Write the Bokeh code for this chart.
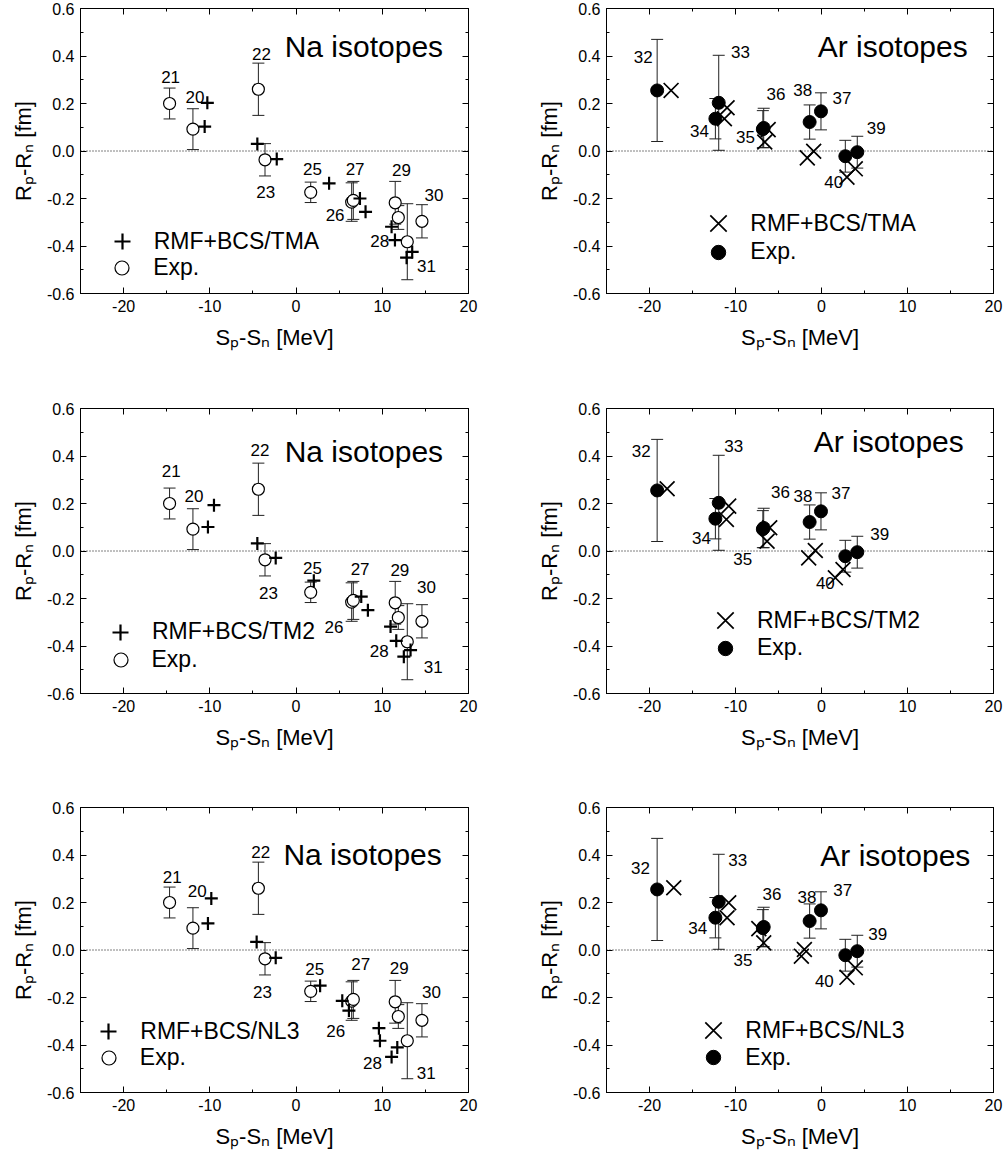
from bokeh.plotting import figure
from bokeh.models import (Range1d, FixedTicker, NumeralTickFormatter, LinearAxis,
                          Span, Whisker, TeeHead, ColumnDataSource, Label, Legend, LegendItem)
from bokeh.layouts import column, row
from bokeh.embed import file_html
from bokeh.resources import INLINE
from bokeh.core.properties import value

FONT = "Liberation Sans"

# ---------------- axis ticks ----------------
x_major_ticks = [-20, -10, 0, 10, 20]
x_minor_ticks = [-25, -15, -5, 5, 15]
y_major_ticks = [-0.6, -0.4, -0.2, 0.0, 0.2, 0.4, 0.6]
y_minor_ticks = [-0.5, -0.3, -0.1, 0.1, 0.3, 0.5]

# ---------------- Na isotopes ----------------
na_mass = ["20", "21", "22", "23", "25", "26", "27", "28", "29", "30", "31"]
na_exp_x = [-11.96, -14.67, -4.37, -3.60, 1.70, 6.45, 6.64, 11.86, 11.50, 14.60, 12.90]
na_exp_y = [0.092, 0.200, 0.260, -0.037, -0.174, -0.215, -0.208, -0.280, -0.218, -0.296, -0.382]
na_exp_err = [0.086, 0.065, 0.110, 0.068, 0.043, 0.081, 0.080, 0.050, 0.090, 0.070, 0.160]

na_tma_x = [-10.29, -10.60, -4.49, -2.24, 3.83, 8.06, 7.41, 11.47, 11.08, 12.82, 13.47]
na_tma_y = [0.203, 0.103, 0.030, -0.034, -0.136, -0.256, -0.200, -0.375, -0.319, -0.449, -0.425]
na_tm2_x = [-9.52, -10.22, -4.49, -2.36, 2.06, 8.33, 7.56, 11.62, 10.96, 12.50, 13.28]
na_tm2_y = [0.193, 0.101, 0.032, -0.029, -0.125, -0.249, -0.192, -0.378, -0.318, -0.445, -0.417]
na_nl3_x = [-9.83, -10.22, -4.57, -2.36, 2.79, 6.13, 5.36, 9.73, 9.61, 11.08, 11.74]
na_nl3_y = [0.217, 0.112, 0.034, -0.033, -0.150, -0.255, -0.214, -0.382, -0.329, -0.450, -0.410]

# isotope-number label anchors (one set per panel)
na_tma_lx = [-11.73, -14.55, -4.02, -3.52, 1.90, 4.53, 6.85, 9.71, 12.23, 16.00, 15.13]
na_tma_ly = [0.227, 0.312, 0.407, -0.174, -0.075, -0.268, -0.075, -0.381, -0.082, -0.185, -0.483]
na_tm2_lx = [-11.84, -14.47, -4.18, -3.21, 1.90, 4.41, 7.43, 9.64, 12.04, 15.13, 15.90]
na_tm2_ly = [0.231, 0.337, 0.424, -0.177, -0.071, -0.320, -0.075, -0.423, -0.078, -0.153, -0.489]
na_nl3_lx = [-11.46, -14.36, -4.10, -3.90, 2.17, 4.60, 7.51, 8.86, 11.96, 15.71, 15.09]
na_nl3_ly = [0.248, 0.307, 0.413, -0.178, -0.080, -0.340, -0.058, -0.476, -0.075, -0.177, -0.518]

# ---------------- Ar isotopes ----------------
ar_mass = ["32", "33", "34", "35", "36", "37", "38", "39", "40"]
ar_exp_x = [-19.11, -11.95, -12.34, -6.82, -6.72, -0.06, -1.38, 4.16, 2.77]
ar_exp_y = [0.255, 0.203, 0.136, 0.092, 0.097, 0.167, 0.122, -0.005, -0.022]
ar_exp_err = [0.215, 0.200, 0.085, 0.078, 0.083, 0.078, 0.072, 0.067, 0.067]

ar_tma_x = [-17.49, -10.98, -11.29, -6.60, -6.20, -0.91, -1.65, 3.93, 2.96]
ar_tma_y = [0.255, 0.182, 0.136, 0.038, 0.090, -0.001, -0.029, -0.075, -0.110]
ar_tm2_x = [-17.95, -10.79, -11.06, -6.33, -6.02, -0.72, -1.49, 2.50, 1.61]
ar_tm2_y = [0.262, 0.189, 0.133, 0.041, 0.098, 0.002, -0.029, -0.078, -0.113]
ar_nl3_x = [-17.18, -10.79, -10.98, -6.72, -7.29, -1.99, -2.34, 3.93, 2.96]
ar_nl3_y = [0.262, 0.199, 0.136, 0.030, 0.090, 0.002, -0.026, -0.075, -0.115]

ar_tma_lx = [-20.74, -9.43, -14.19, -8.85, -5.29, 2.38, -2.19, 6.37, 1.41]
ar_tma_ly = [0.396, 0.417, 0.084, 0.058, 0.241, 0.224, 0.258, 0.096, -0.132]
ar_tm2_lx = [-20.97, -10.21, -13.96, -9.16, -4.78, 2.27, -2.15, 6.76, 0.45]
ar_tm2_ly = [0.421, 0.442, 0.056, -0.032, 0.250, 0.245, 0.231, 0.070, -0.134]
ar_nl3_lx = [-21.05, -9.74, -14.39, -9.12, -5.75, 2.46, -1.68, 6.53, 0.33]
ar_nl3_ly = [0.347, 0.378, 0.091, -0.043, 0.234, 0.251, 0.223, 0.068, -0.129]


def style_axis(ax, labels=True):
    ax.major_tick_in = 6
    ax.major_tick_out = 0
    ax.minor_tick_in = 3
    ax.minor_tick_out = 0
    ax.major_tick_line_color = "black"
    ax.minor_tick_line_color = "black"
    ax.axis_line_color = "black"
    ax.major_label_text_font = FONT
    if labels:
        ax.major_label_text_color = "black"
        ax.major_label_text_font_size = "16px"
        ax.major_label_standoff = 6
    else:
        ax.major_label_text_color = None
        ax.major_label_text_font_size = "1px"
        ax.major_label_standoff = 0


def make_panel(nucleus, model_name, mx, my, lx, ly, title_xy, leg, col, rowi):
    frame_w = 388 if col == 0 else 387
    borders_lr = (80, 28) if col == 0 else (110, 11)
    borders_tb = [(8, 101), (14, 100), (14, 66)][rowi]
    p = figure(frame_width=frame_w, frame_height=285,
               x_range=Range1d(-25, 20), y_range=Range1d(-0.6, 0.6),
               output_backend="svg", toolbar_location=None,
               min_border_left=borders_lr[0], min_border_right=borders_lr[1],
               min_border_top=borders_tb[0], min_border_bottom=borders_tb[1],
               background_fill_color="white", border_fill_color="white")
    p.xgrid.visible = False
    p.ygrid.visible = False
    p.outline_line_color = "black"
    p.outline_line_width = 1

    p.xaxis.ticker = FixedTicker(ticks=x_major_ticks, minor_ticks=x_minor_ticks)
    p.yaxis.ticker = FixedTicker(ticks=y_major_ticks, minor_ticks=y_minor_ticks)
    p.xaxis.formatter = NumeralTickFormatter(format="0")
    p.yaxis.formatter = NumeralTickFormatter(format="0.0")
    for ax in p.xaxis + p.yaxis:
        style_axis(ax, True)
        ax.axis_label_text_font = FONT
        ax.axis_label_text_font_size = "22px"
        ax.axis_label_text_font_style = "normal"
        ax.axis_label_text_color = "black"
    p.xaxis.axis_label = "S\u209a-S\u2099 [MeV]"
    p.yaxis.axis_label = "R\u209a-R\u2099 [fm]"
    p.xaxis.axis_label_standoff = 10
    p.yaxis.axis_label_standoff = 8

    top_ax = LinearAxis(ticker=FixedTicker(ticks=x_major_ticks, minor_ticks=x_minor_ticks))
    right_ax = LinearAxis(ticker=FixedTicker(ticks=y_major_ticks, minor_ticks=y_minor_ticks))
    style_axis(top_ax, False)
    style_axis(right_ax, False)
    p.add_layout(top_ax, "above")
    p.add_layout(right_ax, "right")

    p.add_layout(Span(location=0, dimension="width", line_color="black",
                      line_width=1, line_dash="1 2"))

    if nucleus == "Na":
        ex, ey, ee, masses = na_exp_x, na_exp_y, na_exp_err, na_mass
    else:
        ex, ey, ee, masses = ar_exp_x, ar_exp_y, ar_exp_err, ar_mass

    src = ColumnDataSource(dict(x=ex, y=ey,
                                upper=[a + b for a, b in zip(ey, ee)],
                                lower=[a - b for a, b in zip(ey, ee)]))
    p.add_layout(Whisker(source=src, base="x", upper="upper", lower="lower",
                         line_color="#222222", line_width=1,
                         upper_head=TeeHead(size=12, line_color="#222222", line_width=1),
                         lower_head=TeeHead(size=12, line_color="#222222", line_width=1)))

    if nucleus == "Na":
        r_exp = p.scatter("x", "y", source=src, marker="circle", size=12,
                          fill_color="white", line_color="black", line_width=1.2)
        r_mod = p.scatter(mx, my, marker="cross", size=13, line_color="black",
                          line_width=2.2)
        g_mod, g_exp = 40, 35
    else:
        r_exp = p.scatter("x", "y", source=src, marker="circle", size=13,
                          fill_color="black", line_color="black", line_width=1)
        r_mod = p.scatter(mx, my, marker="x", size=21, line_color="black",
                          line_width=1.7)
        g_mod, g_exp = 58, 36

    p.text(x=lx, y=ly, text=masses, text_font=value(FONT), text_font_size="17px",
           text_align="center", text_baseline="middle", text_color="black")

    p.add_layout(Label(x=title_xy[0], y=title_xy[1], text=f"{nucleus} isotopes",
                       text_font=FONT, text_font_size="30px", text_color="black",
                       text_align="left", text_baseline="middle"))

    gx, gy1, gy2 = leg
    for lab, rend, gy, g in (("RMF+BCS/" + model_name, r_mod, gy1, g_mod),
                             ("Exp.", r_exp, gy2, g_exp)):
        lg = Legend(items=[LegendItem(label=lab, renderers=[rend])],
                    location=(gx - g / 2, gy - g / 2), orientation="vertical",
                    glyph_width=g, glyph_height=g, label_height=20,
                    padding=0, margin=0, spacing=0,
                    label_standoff=int(round(32 - g / 2)), label_text_font=FONT,
                    label_text_font_size="23px", label_text_color="black",
                    border_line_color=None, background_fill_alpha=0)
        p.add_layout(lg)
    return p


p1 = make_panel("Na", "TMA", na_tma_x, na_tma_y, na_tma_lx, na_tma_ly, (-1.32, 0.438), (41.7, 52, 26), 0, 0)
p2 = make_panel("Ar", "TMA", ar_tma_x, ar_tma_y, ar_tma_lx, ar_tma_ly, (-0.45, 0.438), (112.3, 70, 41.3), 1, 0)
p3 = make_panel("Na", "TM2", na_tm2_x, na_tm2_y, na_tm2_lx, na_tm2_ly, (-1.32, 0.421), (40, 61.3, 33.7), 0, 1)
p4 = make_panel("Ar", "TM2", ar_tm2_x, ar_tm2_y, ar_tm2_lx, ar_tm2_ly, (-0.91, 0.461), (119, 72.7, 45.3), 1, 1)
p5 = make_panel("Na", "NL3", na_nl3_x, na_nl3_y, na_nl3_lx, na_nl3_ly, (-1.47, 0.403), (28.3, 61, 34.3), 0, 2)
p6 = make_panel("Ar", "NL3", ar_nl3_x, ar_nl3_y, ar_nl3_lx, ar_nl3_ly, (-0.14, 0.399), (107.3, 61.7, 35), 1, 2)

layout = column(row(p1, p2), row(p3, p4), row(p5, p6))

open("out.html", "w").write(file_html(layout, INLINE))
